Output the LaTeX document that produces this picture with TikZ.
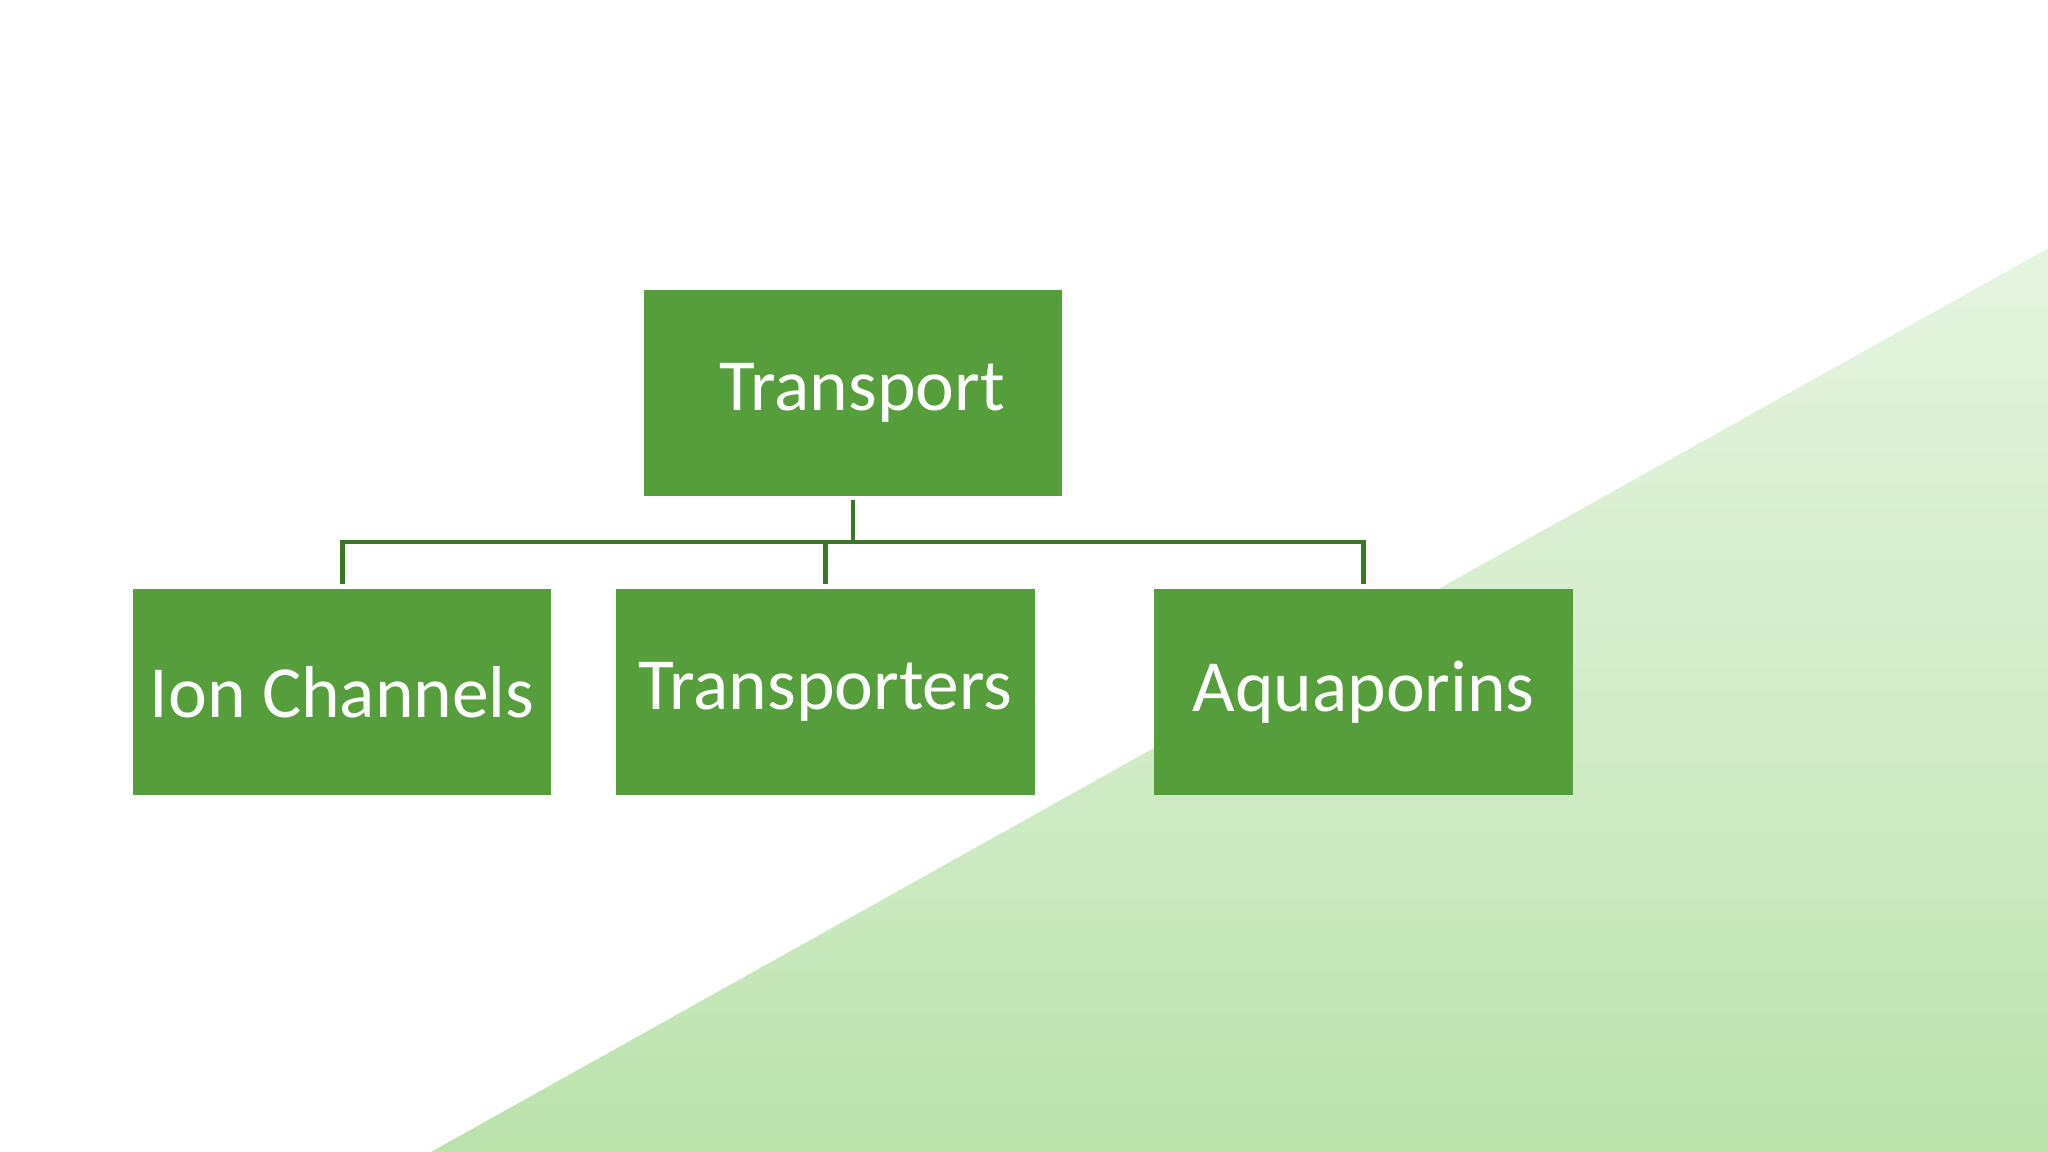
\documentclass[tikz,border=0pt]{standalone}
\usepackage{fontspec}
\setmainfont{Carlito}
\definecolor{boxgreen}{RGB}{85,158,59}
\definecolor{linegreen}{RGB}{62,118,40}
\definecolor{bggreen}{RGB}{124,200,96}
\begin{document}
\begin{tikzpicture}[x=0.01cm,y=-0.01cm,
  box/.style={draw=none,fill=boxgreen,minimum width=3.2cm,minimum height=1.58cm,text=white,font=\fontsize{16}{19}\selectfont,inner sep=0pt},
  conn/.style={draw=linegreen,line width=1pt}]
\useasboundingbox (0,0) rectangle (1568,882);
\fill[white] (0,0) rectangle (1568,882);
\begin{scope}[x=0.01cm,y=0.01cm]
\clip (0,0) rectangle (1568,-882);
\begin{scope}[shift={(330,-882)},rotate=29.2]
\shade[top color=white,bottom color=bggreen,middle color=white!60!bggreen] (-400,0) rectangle (2400,-640);
\fill[bggreen] (-400,-640) rectangle (2400,-1600);
\end{scope}
\end{scope}
\node[box] (t) at (653,301) {\hspace{0.14cm}Transport};
\node[box] (a) at (262,530) {Ion Channels};
\node[box] (b) at (632,530) {Transporters};
\node[box] (c) at (1044,530) {Aquaporins};
\coordinate (m) at (653,415);
\draw[conn] ([yshift=-0.02cm]t.south) -- (m);
\draw[conn] ([yshift=0.03cm]a.north) |- (m) -| ([yshift=0.03cm]c.north);
\draw[conn] ([yshift=0.03cm]b.north) -- (b.north |- m);
\end{tikzpicture}
\end{document}
